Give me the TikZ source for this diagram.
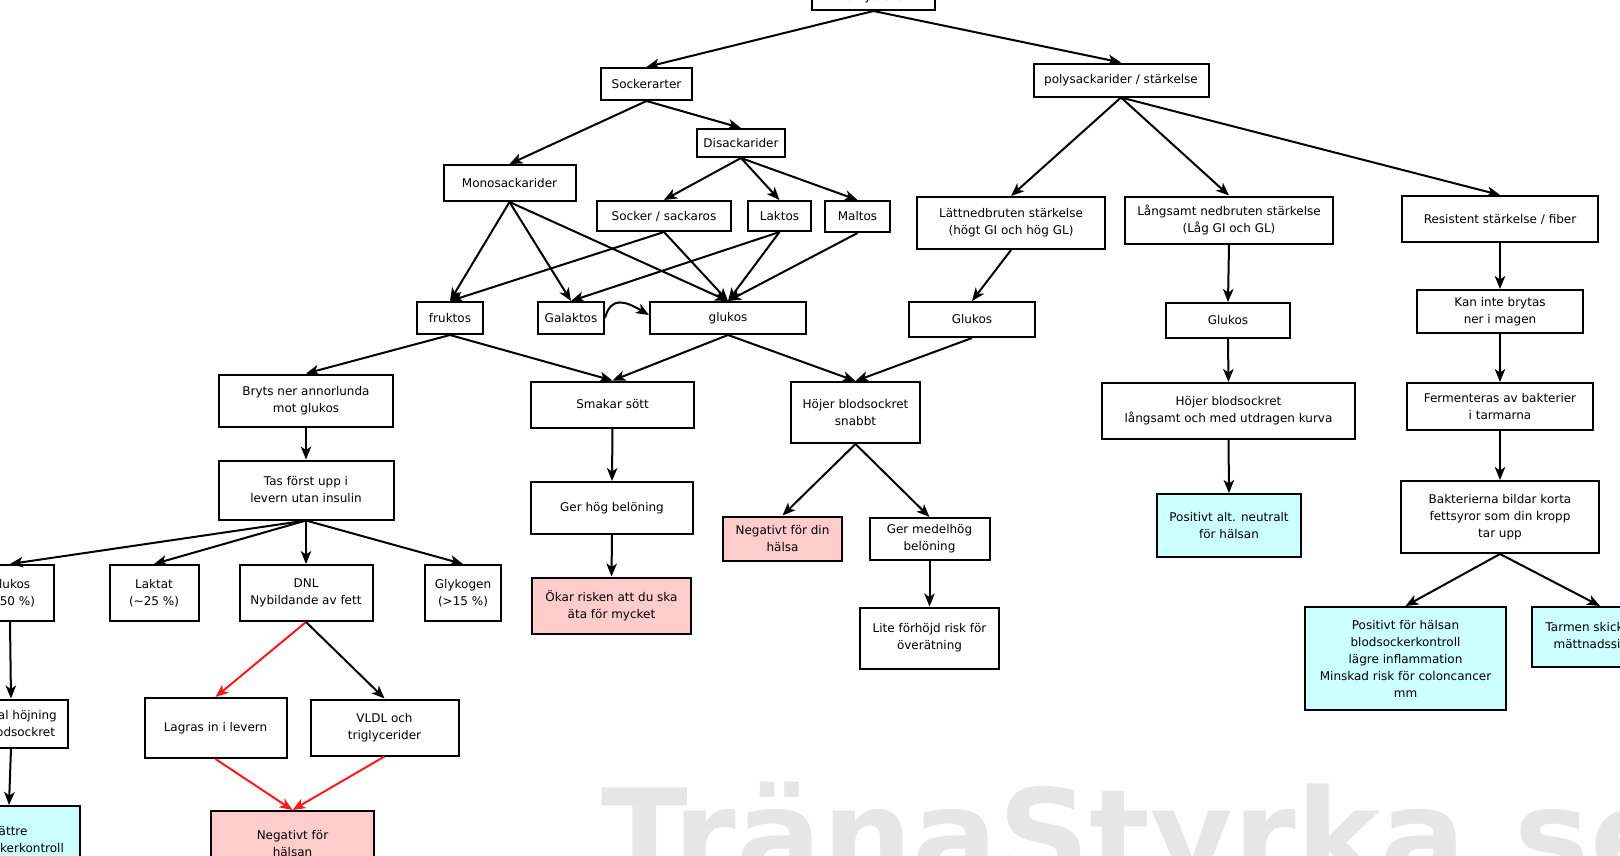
\documentclass[tikz,border=0pt]{standalone}
\usepackage{fontspec}
\setmainfont{DejaVu Sans}
\usetikzlibrary{arrows.meta}
\definecolor{pinkf}{HTML}{FFCCCC}
\definecolor{cyanf}{HTML}{CCFFFF}
\definecolor{wmgray}{HTML}{E6E6E6}
\definecolor{redarr}{HTML}{FF1A1A}
\begin{document}
\begin{tikzpicture}[x=1pt,y=-1pt,
  bx/.style={draw, line width=2pt, fill=white, inner sep=0pt, align=center,
    font=\fontsize{12pt}{17pt}\selectfont},
  pinkbox/.style={bx, fill=pinkf},
  cyanbox/.style={bx, fill=cyanf},
  arr/.style={line width=2pt, -{Stealth[length=13pt,width=10.5pt,inset=3.5pt]}},
  redarrow/.style={arr, draw=redarr, -{Stealth[length=13pt,width=10.5pt,inset=3.5pt,color=redarr]}}]
\useasboundingbox (0,0) rectangle (1620,855);
\fill[white] (0,0) rectangle (1620,855);
% watermark
\node[anchor=base west, inner sep=0pt, text=wmgray,
  font=\fontsize{127pt}{130pt}\selectfont\bfseries] (wm) at (601,880) {TränaStyrka.se};

% nodes
\node[bx, minimum width=123pt, minimum height=26pt] (kol) at (873.5,-3) {Kolhydrater};
\node[bx, minimum width=91pt, minimum height=32pt] (soc) at (646.5,84) {Sockerarter};
\node[bx, minimum width=175pt, minimum height=33pt] (pol) at (1121,80) {polysackarider / stärkelse};
\node[bx, minimum width=88pt, minimum height=28pt] (dis) at (741,143) {Disackarider};
\node[bx, minimum width=132pt, minimum height=36pt] (mon) at (509.5,183) {Monosackarider};
\node[bx, minimum width=134pt, minimum height=30pt] (sac) at (664,216) {Socker / sackaros};
\node[bx, minimum width=63pt, minimum height=30pt] (lak) at (779.5,216) {Laktos};
\node[bx, minimum width=65pt, minimum height=31pt] (mal) at (857.5,216.5) {Maltos};
\node[bx, minimum width=188pt, minimum height=52pt] (lat) at (1011,223) {Lättnedbruten stärkelse\\(högt GI och hög GL)};
\node[bx, minimum width=208pt, minimum height=47pt] (lan) at (1229,220) {Långsamt nedbruten stärkelse\\(Låg GI och GL)};
\node[bx, minimum width=196pt, minimum height=46pt] (res) at (1500,219) {Resistent stärkelse / fiber};
\node[bx, minimum width=66pt, minimum height=32pt] (fru) at (450,318) {fruktos};
\node[bx, minimum width=66pt, minimum height=32pt] (gal) at (571,318) {Galaktos};
\node[bx, minimum width=156pt, minimum height=32pt] (glu) at (728,318) {glukos};
\node[bx, minimum width=126pt, minimum height=35pt] (gla) at (972,319.5) {Glukos};
\node[bx, minimum width=124pt, minimum height=35pt] (glb) at (1228,320.5) {Glukos};
\node[bx, minimum width=166pt, minimum height=43pt] (kan) at (1500,311.5) {Kan inte brytas\\ner i magen};
\node[bx, minimum width=174pt, minimum height=52pt] (bry) at (306,400.5) {Bryts ner annorlunda\\mot glukos};
\node[bx, minimum width=163pt, minimum height=46pt] (sma) at (612.5,404.5) {Smakar sött};
\node[bx, minimum width=129pt, minimum height=61pt] (hsn) at (855.5,412.5) {Höjer blodsockret\\snabbt};
\node[bx, minimum width=253pt, minimum height=56pt] (hla) at (1228.5,411) {Höjer blodsockret\\långsamt och med utdragen kurva};
\node[bx, minimum width=186pt, minimum height=47pt] (fer) at (1500,406.5) {Fermenteras av bakterier\\i tarmarna};
\node[bx, minimum width=175pt, minimum height=59pt] (tas) at (306,490) {Tas först upp i\\levern utan insulin};
\node[bx, minimum width=162pt, minimum height=52pt] (ger) at (612,508) {Ger hög belöning};
\node[pinkbox, minimum width=119pt, minimum height=44pt] (ndh) at (782.5,538.5) {Negativt för din\\hälsa};
\node[bx, minimum width=120pt, minimum height=42pt] (gmb) at (929.5,539) {Ger medelhög\\belöning};
\node[cyanbox, minimum width=144pt, minimum height=63pt] (pan) at (1229,525.5) {Positivt alt. neutralt\\för hälsan};
\node[bx, minimum width=198pt, minimum height=72pt] (bak) at (1500,517) {Bakterierna bildar korta\\fettsyror som din kropp\\tar upp};
\node[bx, minimum width=88pt, minimum height=56pt] (g50) at (10,593) {Glukos\\(\textasciitilde50 \%)};
\node[bx, minimum width=89pt, minimum height=56pt] (lkt) at (154,593) {Laktat\\(\textasciitilde25 \%)};
\node[bx, minimum width=133pt, minimum height=56pt] (dnl) at (306,593) {DNL\\Nybildande av fett};
\node[bx, minimum width=76pt, minimum height=56pt] (gly) at (463,593) {Glykogen\\(>15 \%)};
\node[pinkbox, minimum width=159pt, minimum height=56pt] (oka) at (611.5,605.5) {Ökar risken att du ska\\äta för mycket};
\node[bx, minimum width=139pt, minimum height=61pt] (lit) at (929.5,638) {Lite förhöjd risk för\\överätning};
\node[cyanbox, minimum width=201pt, minimum height=103pt] (pfh) at (1405.5,658.5) {Positivt för hälsan\\blodsockerkontroll\\lägre inflammation\\Minskad risk för coloncancer\\mm};
\node[cyanbox, minimum width=136pt, minimum height=60pt] (tar) at (1600,637) {Tarmen skickar en\\mättnadssignal};
\node[bx, minimum width=114pt, minimum height=48pt] (nor) at (11,723.5) {Normal höjning\\av blodsockret};
\node[bx, minimum width=142pt, minimum height=60pt] (lag) at (215.5,728) {Lagras in i levern};
\node[bx, minimum width=148pt, minimum height=56pt] (vld) at (384.5,727.5) {VLDL och\\triglycerider};
\node[cyanbox, minimum width=141pt, minimum height=68pt] (bat) at (9,840) {Bättre\\blodsockerkontroll};
\node[pinkbox, minimum width=163pt, minimum height=66pt] (neg) at (292.5,844) {Negativt för\\hälsan};

% connectors
\draw[arr] (kol.south) -- (soc.north);
\draw[arr] (kol.south) -- (pol.north);
\draw[arr] (soc.south) -- (mon.north);
\draw[arr] (soc.south) -- (dis.north);
\draw[arr] (dis.south) -- (sac.north);
\draw[arr] (dis.south) -- (lak.north);
\draw[arr] (dis.south) -- (mal.north);
\draw[arr] (mon.south) -- (fru.north);
\draw[arr] (mon.south) -- (gal.north);
\draw[arr] (mon.south) -- (glu.north);
\draw[arr] (sac.south) -- (fru.north);
\draw[arr] (sac.south) -- (glu.north);
\draw[arr] (lak.south) -- (gal.north);
\draw[arr] (lak.south) -- (glu.north);
\draw[arr] (mal.south) -- (glu.north);
\draw[arr] (gal.east) .. controls +(6,-22) and +(-24,-14) .. ([yshift=3pt]glu.west);
\draw[arr] (pol.south) -- (lat.north);
\draw[arr] (pol.south) -- (lan.north);
\draw[arr] (pol.south) -- (res.north);
\draw[arr] (lat.south) -- (gla.north);
\draw[arr] (lan.south) -- (glb.north);
\draw[arr] (res.south) -- (kan.north);
\draw[arr] (fru.south) -- (bry.north);
\draw[arr] (fru.south) -- (sma.north);
\draw[arr] (glu.south) -- (sma.north);
\draw[arr] (glu.south) -- (hsn.north);
\draw[arr] (gla.south) -- (hsn.north);
\draw[arr] (glb.south) -- (hla.north);
\draw[arr] (kan.south) -- (fer.north);
\draw[arr] (fer.south) -- (bak.north);
\draw[arr] (bry.south) -- (tas.north);
\draw[arr] (sma.south) -- (ger.north);
\draw[arr] (ger.south) -- (oka.north);
\draw[arr] (hsn.south) -- (ndh.north);
\draw[arr] (hsn.south) -- (gmb.north);
\draw[arr] (gmb.south) -- (lit.north);
\draw[arr] (hla.south) -- (pan.north);
\draw[arr] (bak.south) -- (pfh.north);
\draw[arr] (bak.south) -- (tar.north);
\draw[arr] (tas.south) -- (g50.north);
\draw[arr] (tas.south) -- (lkt.north);
\draw[arr] (tas.south) -- (dnl.north);
\draw[arr] (tas.south) -- (gly.north);
\draw[arr] (g50.south) -- (nor.north);
\draw[arr] (nor.south) -- (bat.north);
\draw[redarrow] (dnl.south) -- (lag.north);
\draw[arr] (dnl.south) -- (vld.north);
\draw[redarrow] (lag.south) -- (neg.north);
\draw[redarrow] (vld.south) -- (neg.north);
\end{tikzpicture}
\end{document}
